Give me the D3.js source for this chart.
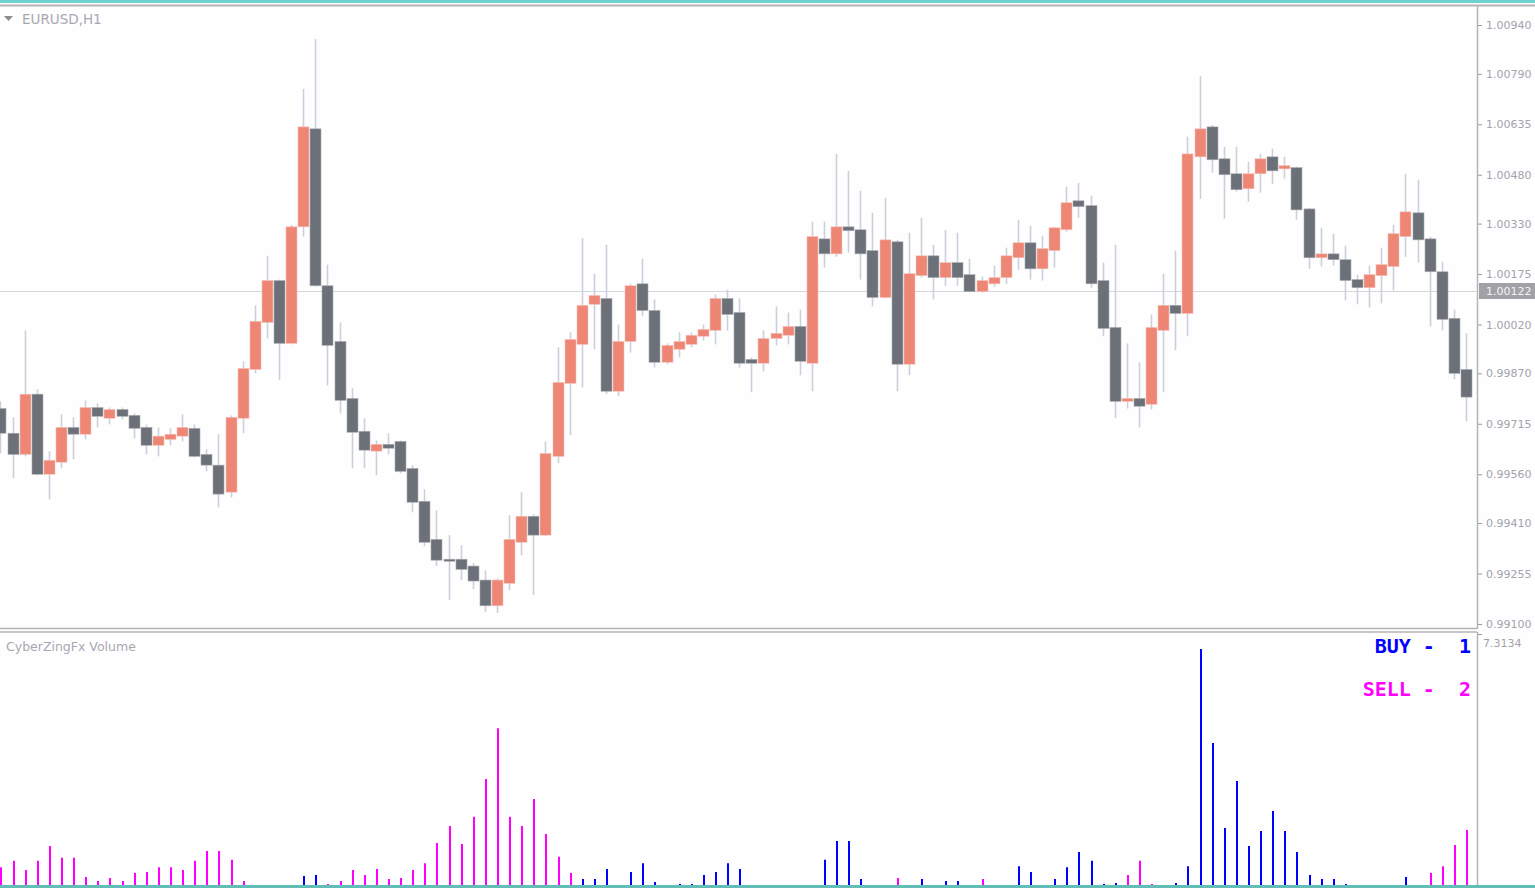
<!DOCTYPE html>
<html lang="en">
<head>
    <meta charset="UTF-8">
    <title>EURUSD,H1</title>
    <script src="https://d3js.org/d3.v7.min.js"></script>
    <style>
        body { margin: 0; background: #fff; }
        text { font-family: "DejaVu Sans", sans-serif; }
        .axis path { display: none; }
        .axis line { stroke: #9a9aa4; }
        .axis text { fill: #a3a3ad; font-size: 11px; }
    </style>
</head>
<body>
<svg width="1535" height="888"></svg>

<script>

    var symbol = 'EURUSD,H1';
    var indicatorName = 'CyberZingFx Volume';

    var opens = [
        0.99762, 0.99686, 0.99621, 0.99806, 0.99560, 0.99597, 0.99704, 0.99683, 0.99765, 0.99732,
        0.99759, 0.99741, 0.99704, 0.99649, 0.99667, 0.99677, 0.99701, 0.99621, 0.99588, 0.99505,
        0.99732, 0.99882, 1.00026, 1.00155, 0.99962, 1.00320, 1.00621, 1.00139, 0.99968, 0.99793,
        0.99692, 0.99631, 0.99652, 0.99661, 0.99578, 0.99477, 0.99360, 0.99299, 0.99299, 0.99278,
        0.99235, 0.99156, 0.99225, 0.99351, 0.99431, 0.99373, 0.99615, 0.99839, 0.99959, 1.00082,
        1.00100, 0.99815, 0.99968, 1.00145, 1.00063, 0.99904, 0.99944, 0.99959, 0.99984, 1.00002,
        1.00100, 1.00057, 0.99913, 0.99901, 0.99977, 0.99987, 1.00014, 0.99901, 1.00283, 1.00237,
        1.00320, 1.00311, 1.00247, 1.00103, 1.00274, 0.99898, 1.00170, 1.00231, 1.00164, 1.00210,
        1.00173, 1.00121, 1.00145, 1.00164, 1.00225, 1.00271, 1.00191, 1.00247, 1.00311, 1.00400,
        1.00385, 1.00155, 1.00011, 0.99784, 0.99793, 0.99775, 1.00002, 1.00079, 1.00054, 1.00535,
        1.00627, 1.00529, 1.00483, 1.00437, 1.00483, 1.00535, 1.00498, 1.00502, 1.00375, 1.00225,
        1.00237, 1.00219, 1.00158, 1.00133, 1.00170, 1.00198, 1.00290, 1.00363, 1.00283, 1.00182,
        1.00039, 0.99882
    ];

    var highs = [
        0.99784, 0.99735, 1.00002, 0.99821, 0.99631, 0.99744, 0.99735, 0.99787, 0.99778, 0.99765,
        0.99765, 0.99747, 0.99713, 0.99704, 0.99701, 0.99744, 0.99713, 0.99637, 0.99683, 0.99741,
        0.99907, 1.00079, 1.00231, 1.00158, 1.00326, 1.00744, 1.00897, 1.00204, 1.00026, 0.99824,
        0.99732, 0.99664, 0.99686, 0.99664, 0.99588, 0.99514, 0.99449, 0.99373, 0.99342, 0.99287,
        0.99265, 0.99241, 0.99434, 0.99505, 0.99437, 0.99661, 0.99950, 0.99996, 1.00286, 1.00176,
        1.00265, 1.00020, 1.00145, 1.00222, 1.00097, 0.99962, 0.99996, 0.99996, 1.00020, 1.00112,
        1.00127, 1.00100, 0.99919, 1.00002, 1.00076, 1.00057, 1.00066, 1.00336, 1.00336, 1.00544,
        1.00492, 1.00431, 1.00363, 1.00409, 1.00280, 1.00302, 1.00348, 1.00265, 1.00311, 1.00302,
        1.00222, 1.00167, 1.00201, 1.00256, 1.00342, 1.00323, 1.00293, 1.00320, 1.00443, 1.00455,
        1.00416, 1.00210, 1.00265, 0.99962, 0.99904, 1.00051, 1.00176, 1.00247, 1.00597, 1.00784,
        1.00633, 1.00566, 1.00566, 1.00520, 1.00544, 1.00560, 1.00535, 1.00505, 1.00378, 1.00317,
        1.00299, 1.00262, 1.00173, 1.00201, 1.00256, 1.00326, 1.00483, 1.00465, 1.00290, 1.00213,
        1.00066, 0.99993
    ];

    var lows = [
        0.99624, 0.99548, 0.99615, 0.99557, 0.99483, 0.99578, 0.99606, 0.99667, 0.99704, 0.99713,
        0.99729, 0.99670, 0.99621, 0.99615, 0.99649, 0.99661, 0.99612, 0.99569, 0.99458, 0.99489,
        0.99686, 0.99870, 0.99977, 0.99849, 0.99959, 1.00290, 1.00136, 0.99833, 0.99747, 0.99578,
        0.99578, 0.99557, 0.99621, 0.99563, 0.99443, 0.99339, 0.99278, 0.99174, 0.99235, 0.99207,
        0.99137, 0.99134, 0.99204, 0.99311, 0.99189, 0.99370, 0.99594, 0.99680, 0.99827, 0.99944,
        0.99806, 0.99800, 0.99934, 1.00045, 0.99888, 0.99898, 0.99919, 0.99950, 0.99971, 0.99959,
        1.00002, 0.99888, 0.99812, 0.99876, 0.99956, 0.99959, 0.99864, 0.99815, 1.00195, 1.00228,
        1.00241, 1.00158, 1.00076, 1.00100, 0.99815, 0.99864, 1.00164, 1.00097, 1.00139, 1.00139,
        1.00121, 1.00118, 1.00136, 1.00145, 1.00188, 1.00158, 1.00155, 1.00195, 1.00305, 1.00348,
        1.00133, 0.99984, 0.99732, 0.99762, 0.99704, 0.99759, 0.99812, 0.99941, 0.99984, 1.00406,
        1.00486, 1.00345, 1.00428, 1.00397, 1.00425, 1.00452, 1.00468, 1.00342, 1.00191, 1.00198,
        1.00201, 1.00094, 1.00082, 1.00072, 1.00085, 1.00124, 1.00228, 1.00210, 1.00014, 1.00002,
        0.99852, 0.99723
    ];

    var closes = [
        0.99686, 0.99621, 0.99806, 0.99560, 0.99603, 0.99704, 0.99683, 0.99765, 0.99738, 0.99759,
        0.99738, 0.99701, 0.99649, 0.99677, 0.99683, 0.99704, 0.99615, 0.99588, 0.99499, 0.99735,
        0.99885, 1.00030, 1.00155, 0.99962, 1.00320, 1.00627, 1.00139, 0.99956, 0.99787, 0.99689,
        0.99634, 0.99652, 0.99640, 0.99569, 0.99474, 0.99351, 0.99296, 0.99293, 0.99268, 0.99232,
        0.99156, 0.99235, 0.99360, 0.99431, 0.99373, 0.99624, 0.99842, 0.99974, 1.00079, 1.00109,
        0.99815, 0.99968, 1.00139, 1.00063, 0.99904, 0.99956, 0.99968, 0.99987, 1.00005, 1.00100,
        1.00051, 0.99901, 0.99901, 0.99977, 0.99993, 1.00014, 0.99907, 1.00290, 1.00237, 1.00320,
        1.00308, 1.00237, 1.00103, 1.00280, 0.99898, 1.00176, 1.00231, 1.00164, 1.00210, 1.00164,
        1.00121, 1.00155, 1.00164, 1.00231, 1.00271, 1.00191, 1.00253, 1.00317, 1.00394, 1.00382,
        1.00145, 1.00008, 0.99784, 0.99793, 0.99769, 1.00011, 1.00079, 1.00054, 1.00544, 1.00621,
        1.00526, 1.00480, 1.00434, 1.00483, 1.00529, 1.00492, 1.00508, 1.00372, 1.00225, 1.00237,
        1.00219, 1.00155, 1.00133, 1.00173, 1.00204, 1.00299, 1.00366, 1.00280, 1.00182, 1.00036,
        0.99870, 0.99797
    ];

    var buyVolume = [
        0, 0, 0, 0, 0, 0, 0, 0, 0, 0,
        0, 0, 0, 0, 0, 0, 0, 0, 0, 0,
        0, 0, 0, 0, 0, 0.27, 0.30, 0, 0, 0,
        0, 0, 0, 0, 0, 0, 0, 0, 0, 0,
        0, 0, 0, 0, 0, 0, 0, 0, 0.18, 0.18,
        0.48, 0, 0.39, 0.66, 0.09, 0, 0.03, 0.03, 0.30, 0.39,
        0.66, 0.48, 0, 0, 0, 0, 0, 0, 0.76, 1.33,
        1.33, 0.18, 0, 0, 0, 0, 0.18, 0, 0.12, 0.12,
        0, 0, 0, 0, 0.57, 0.39, 0, 0.18, 0.54, 1.00,
        0.73, 0.03, 0.06, 0, 0, 0, 0, 0.06, 0.57, 7.13,
        4.29, 1.72, 3.14, 1.18, 1.63, 2.24, 1.63, 1.00, 0.30, 0.18,
        0.18, 0.03, 0, 0, 0, 0, 0.24, 0, 0, 0,
        0, 0
    ];

    var sellVolume = [
        0.54, 0.73, 0.45, 0.73, 1.18, 0.82, 0.82, 0.24, 0.12, 0.21,
        0.12, 0.36, 0.39, 0.54, 0.54, 0.45, 0.73, 1.03, 1.03, 0.76,
        0.12, 0, 0, 0, 0, 0, 0, 0.03, 0.12, 0.45,
        0.30, 0.48, 0.18, 0.21, 0.45, 0.66, 1.27, 1.78, 1.24, 2.06,
        3.20, 4.74, 2.06, 1.78, 2.60, 1.54, 0.85, 0.36, 0, 0,
        0, 0, 0, 0, 0, 0, 0, 0, 0, 0,
        0, 0, 0, 0, 0, 0, 0, 0, 0, 0,
        0, 0, 0, 0, 0.21, 0, 0, 0, 0, 0,
        0, 0.18, 0, 0, 0, 0, 0, 0, 0, 0,
        0, 0, 0, 0.30, 0.73, 0.03, 0, 0, 0, 0,
        0, 0, 0, 0, 0, 0, 0, 0, 0, 0,
        0, 0, 0, 0, 0, 0, 0, 0, 0.36, 0.57,
        1.21, 1.66
    ];

    var priceTicks = ['0.99100', '0.99255', '0.99410', '0.99560', '0.99715', '0.99870', '1.00020',
        '1.00175', '1.00330', '1.00480', '1.00635', '1.00790', '1.00940'];
    var currentPrice = 1.00122;
    var volumeMax = 7.3134;
    var buyLabel = 'BUY -  1';
    var sellLabel = 'SELL -  2';

    var svg = d3.select('svg');
    var width = +svg.attr('width');
    var height = +svg.attr('height');
    var plotRight = 1477;

    var bars = opens.map(function(o, i) {
        return {i: i, open: o, high: highs[i], low: lows[i], close: closes[i],
            buy: buyVolume[i], sell: sellVolume[i]};
    });

    var x = d3.scaleLinear()
            .domain([0, bars.length - 1])
            .range([0.4, 1466]);

    var y = d3.scaleLinear()
            .domain([+priceTicks[0], +priceTicks[priceTicks.length - 1]])
            .range([624, 25]);

    var yVol = d3.scaleLinear()
            .domain([0, volumeMax])
            .range([885, 643]);

    // background + window frame
    svg.append('rect').attr('width', width).attr('height', height).attr('fill', '#fefefe');
    svg.append('rect').attr('x', 0).attr('y', 0).attr('width', width).attr('height', 3).attr('fill', '#6fd0d0');
    svg.append('rect').attr('x', 0).attr('y', 885).attr('width', width).attr('height', 3).attr('fill', '#62bdb6');

    var frame = svg.append('g')
            .attr('fill', 'none')
            .attr('stroke', '#b4b4b8');
    frame.append('line').attr('x1', 0).attr('x2', width).attr('y1', 5.5).attr('y2', 5.5).attr('stroke-width', 2);
    frame.append('line').attr('x1', 0).attr('x2', plotRight).attr('y1', 628.5).attr('y2', 628.5).attr('stroke-width', 1.5);
    frame.append('line').attr('x1', 0).attr('x2', plotRight).attr('y1', 632).attr('y2', 632).attr('stroke-width', 1.5);
    frame.append('line').attr('x1', plotRight + 0.5).attr('x2', plotRight + 0.5).attr('y1', 6).attr('y2', 629).attr('stroke-width', 1.5);
    frame.append('line').attr('x1', plotRight + 0.5).attr('x2', plotRight + 0.5).attr('y1', 632).attr('y2', 885).attr('stroke-width', 1.5);

    svg.append('clipPath').attr('id', 'main-clip')
        .append('rect').attr('x', 0).attr('y', 7).attr('width', plotRight).attr('height', 621);

    // current price line
    svg.append('line')
            .attr('x1', 0).attr('x2', plotRight)
            .attr('y1', Math.round(y(currentPrice)) + 0.5)
            .attr('y2', Math.round(y(currentPrice)) + 0.5)
            .attr('stroke', '#d4d6de');

    var gCandles = svg.append('g').attr('clip-path', 'url(#main-clip)');

    gCandles.selectAll('line.wick')
            .data(bars)
            .enter().append('line')
            .attr('class', 'wick')
            .attr('x1', function(d) { return Math.round(x(d.i)) + 0.5; })
            .attr('x2', function(d) { return Math.round(x(d.i)) + 0.5; })
            .attr('y1', function(d) { return y(d.high); })
            .attr('y2', function(d) { return y(d.low); })
            .attr('stroke', '#cdd0dc')
            .attr('stroke-width', 1.6);

    gCandles.selectAll('rect.body')
            .data(bars)
            .enter().append('rect')
            .attr('class', 'body')
            .attr('x', function(d) { return Math.round(x(d.i)) - 5; })
            .attr('width', 11)
            .attr('y', function(d) { return y(Math.max(d.open, d.close)); })
            .attr('height', function(d) { return Math.max(2, Math.abs(y(d.open) - y(d.close))); })
            .attr('fill', function(d) { return d.close >= d.open ? '#ee8676' : '#6c7078'; })
            .attr('stroke', function(d) { return d.close >= d.open ? '#f6c0b8' : '#a9acb2'; })
            .attr('stroke-width', 0.6);

    // price axis
    var yAxis = d3.axisRight(y)
            .tickValues(priceTicks.map(Number))
            .tickFormat(function(d, i) { return priceTicks[i]; })
            .tickSize(4)
            .tickPadding(4);

    svg.append('g')
            .attr('class', 'axis')
            .attr('transform', 'translate(' + (plotRight + 1) + ',0)')
            .call(yAxis);

    // current price tag
    var tagY = Math.round(y(currentPrice));
    svg.append('rect')
            .attr('x', plotRight + 2).attr('y', tagY - 8)
            .attr('width', width - plotRight - 2).attr('height', 16)
            .attr('fill', '#a2a2a6');
    svg.append('text')
            .attr('x', 1486).attr('y', tagY + 4)
            .attr('fill', '#f4f4f4')
            .attr('font-size', 11)
            .text(d3.format('.5f')(currentPrice));

    // title
    svg.append('path')
            .attr('d', 'M4,16 L13,16 L8.5,21 Z')
            .attr('fill', '#8c8c94');
    svg.append('text')
            .attr('x', 22).attr('y', 24)
            .attr('fill', '#a8a8b2')
            .attr('font-size', 13.5)
            .text(symbol);

    // volume panel
    var gVol = svg.append('g');

    gVol.selectAll('line.sell')
            .data(bars.filter(function(d) { return d.sell > 0; }))
            .enter().append('line')
            .attr('class', 'sell')
            .attr('x1', function(d) { return Math.round(x(d.i)) + 1; })
            .attr('x2', function(d) { return Math.round(x(d.i)) + 1; })
            .attr('y1', yVol(0))
            .attr('y2', function(d) { return yVol(d.sell); })
            .attr('stroke', '#ff00ff')
            .attr('stroke-width', 2);

    gVol.selectAll('line.buy')
            .data(bars.filter(function(d) { return d.buy > 0; }))
            .enter().append('line')
            .attr('class', 'buy')
            .attr('x1', function(d) { return Math.round(x(d.i)) + 1; })
            .attr('x2', function(d) { return Math.round(x(d.i)) + 1; })
            .attr('y1', yVol(0))
            .attr('y2', function(d) { return yVol(d.buy); })
            .attr('stroke', '#0000ff')
            .attr('stroke-width', 2);

    svg.append('line')
            .attr('x1', plotRight + 1).attr('x2', plotRight + 5)
            .attr('y1', 634.5).attr('y2', 634.5)
            .attr('stroke', '#9a9aa4');
    svg.append('text')
            .attr('x', 1483).attr('y', 647)
            .attr('fill', '#a3a3ad')
            .attr('font-size', 11)
            .text(volumeMax);

    svg.append('text')
            .attr('x', 6).attr('y', 651)
            .attr('fill', '#a8a8b2')
            .attr('font-size', 12.5)
            .text(indicatorName);

    svg.append('text')
            .attr('x', 1471).attr('y', 653)
            .attr('text-anchor', 'end')
            .style('font-family', '"DejaVu Sans Mono", monospace')
            .style('white-space', 'pre')
            .attr('font-size', 20)
            .attr('font-weight', 'bold')
            .attr('fill', '#0000ff')
            .text(buyLabel);

    svg.append('text')
            .attr('x', 1471).attr('y', 696)
            .attr('text-anchor', 'end')
            .style('font-family', '"DejaVu Sans Mono", monospace')
            .style('white-space', 'pre')
            .attr('font-size', 20)
            .attr('font-weight', 'bold')
            .attr('fill', '#ff00ff')
            .text(sellLabel);

</script>
</body>
</html>
